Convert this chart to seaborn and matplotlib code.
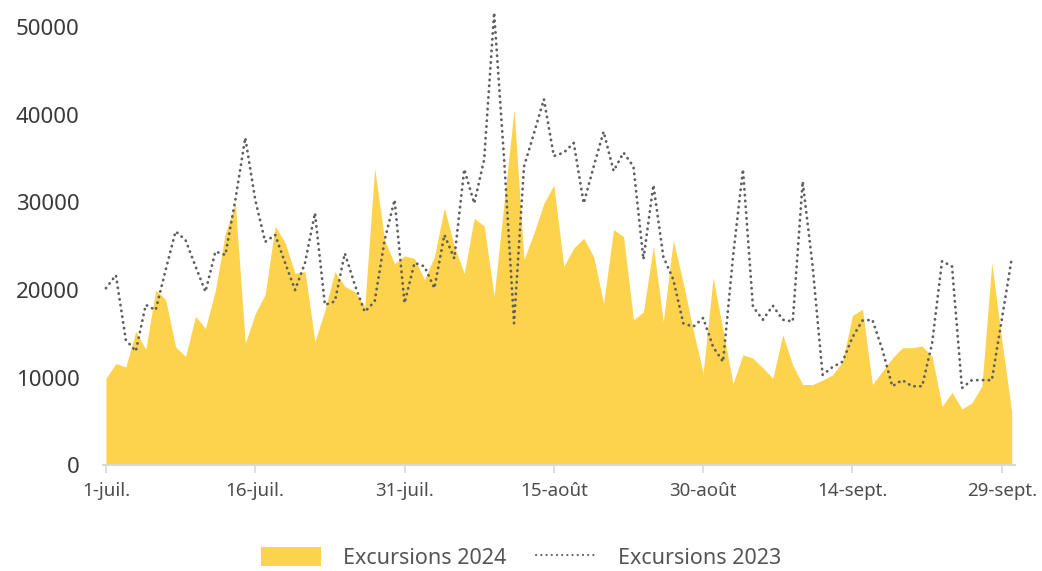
import matplotlib
matplotlib.use("Agg")
import matplotlib.pyplot as plt
from matplotlib.patches import Patch
from matplotlib.lines import Line2D
import numpy as np
import pandas as pd
import seaborn as sns

# daily values, 1 July -> 30 Sept (92 days)
excursions_2024 = [
    9900, 11600, 11200, 15300, 13200, 20000, 18900, 13500, 12400, 17000,
    15600, 20000, 26500, 29900, 13900, 17300, 19500, 27300, 25400, 21900,
    22100, 14100, 17700, 22100, 20400, 19800, 18100, 33900, 25700, 23000,
    23900, 23600, 21200, 23800, 29400, 25000, 21900, 28200, 27300, 19300,
    30000, 40600, 23500, 26500, 29900, 32000, 22700, 24800, 25900, 23800,
    18500, 26900, 26100, 16600, 17500, 25000, 16400, 25700, 20800, 15400,
    10500, 21400, 15400, 9300, 12600, 12200, 11100, 9900, 14900, 11400,
    9200, 9200, 9700, 10300, 11800, 17100, 17800, 9200, 10700, 12200,
    13400, 13400, 13600, 12400, 6700, 8300, 6400, 7100, 9000, 23100,
    14300, 6100,
]
excursions_2023 = [
    20200, 21700, 14300, 13000, 18300, 17700, 22300, 26700, 25700, 22700,
    19800, 24400, 24000, 30300, 37400, 30300, 25500, 26300, 23100, 20000,
    23100, 28800, 18300, 18700, 24200, 20600, 17500, 18700, 25700, 30300,
    18500, 23100, 22700, 20200, 26300, 23600, 33800, 29900, 34900, 51700,
    35000, 16200, 34100, 37900, 41800, 35300, 35700, 36800, 29900, 34100,
    38100, 33600, 35700, 34100, 23500, 32000, 23800, 21200, 16200, 15800,
    16800, 13500, 11800, 23800, 33800, 18100, 16600, 18200, 16600, 16400,
    32400, 22700, 10300, 11200, 11800, 14600, 16500, 16600, 13200, 9000,
    9700, 9000, 9000, 13900, 23300, 22700, 8800, 9700, 9700, 9700,
    16600, 23600,
]
tick_days = [0, 15, 30, 45, 60, 75, 90]
tick_labels = ["1-juil.", "16-juil.", "31-juil.", "15-août", "30-août", "14-sept.", "29-sept."]
y_ticks = [0, 10000, 20000, 30000, 40000, 50000]

df = pd.DataFrame({
    "day": np.arange(len(excursions_2024)),
    "e2024": excursions_2024,
    "e2023": excursions_2023,
})

sns.set_theme(style="white")
plt.rcParams["font.family"] = ["Noto Sans", "DejaVu Sans"]

yellow = "#FDD24C"
grey_line = "#5f5f5f"
dots = (0, (0.1, 2.0))

fig = plt.figure(figsize=(10.42, 5.71), dpi=100)
ax = fig.add_axes([0.0988, 0.1856, 0.875, 0.797])

ax.fill_between(df["day"], 0, df["e2024"], color=yellow, linewidth=0)
sns.lineplot(data=df, x="day", y="e2023", ax=ax, color=grey_line,
             linewidth=2.0, linestyle=dots, dash_capstyle="round")

ax.set_xlim(-0.3, 91.3)
ax.set_ylim(0, 52000)
ax.set_xticks(tick_days)
ax.set_xticklabels(tick_labels, fontsize=13.5, color="#4d4d4d")
ax.set_yticks(y_ticks)
ax.set_yticklabels([str(v) for v in y_ticks], fontsize=16, color="#3a3a3a")
ax.set_xlabel("")
ax.set_ylabel("")

for side in ["top", "right", "left"]:
    ax.spines[side].set_visible(False)
ax.spines["bottom"].set_color("#d9d9d9")
ax.spines["bottom"].set_linewidth(1.5)
ax.tick_params(axis="x", bottom=True, length=6, width=1.2, color="#d9d9d9", pad=6)
ax.tick_params(axis="y", left=False, length=0, pad=17)

handles = [
    Patch(facecolor=yellow, edgecolor="none", label="Excursions 2024"),
    Line2D([0], [0], color=grey_line, linewidth=1.5, linestyle=(0, (0.1, 2.4)),
           dash_capstyle="round", label="Excursions 2023"),
]
fig.legend(handles=handles, loc="lower center", bbox_to_anchor=(0.5, -0.03),
           ncol=2, frameon=False, fontsize=15.5, handlelength=2.8, handleheight=0.95,
           columnspacing=1.4, handletextpad=1.0, labelcolor="#555555")

fig.savefig("out.png", dpi=100)
